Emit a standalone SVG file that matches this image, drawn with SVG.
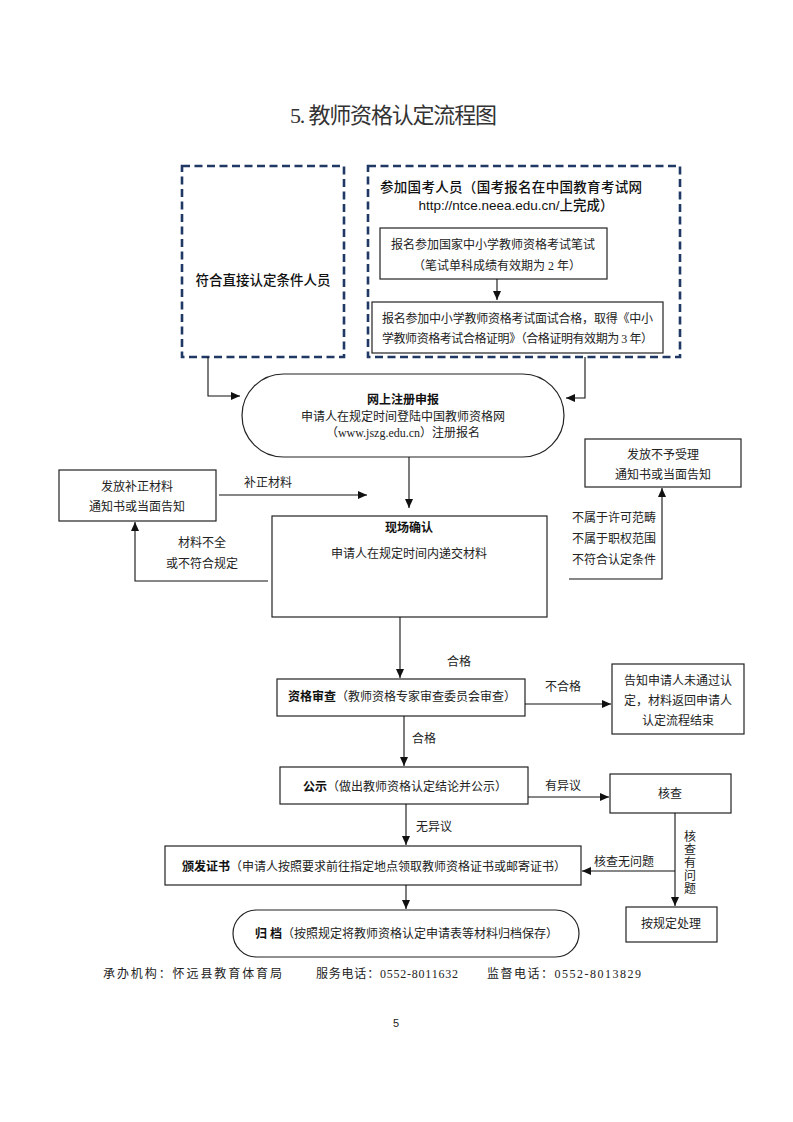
<svg xmlns="http://www.w3.org/2000/svg" width="793" height="1122" viewBox="0 0 793 1122">
<style>
.t{font-family:"Liberation Serif","Noto Sans CJK SC",serif;font-size:12px;fill:#222;}
.b{font-weight:bold;fill:#111;}
.h{font-family:"Liberation Sans","Noto Sans CJK SC",sans-serif;font-size:13.5px;fill:#111;font-weight:500;}
.box{fill:#fff;stroke:#222;stroke-width:1.2;}
.dash{fill:none;stroke:#1F3864;stroke-width:2.6;stroke-dasharray:8 4.5;}
.ln{fill:none;stroke:#111;stroke-width:1.1;}
</style>
<defs>
<marker id="ar" markerWidth="10" markerHeight="8" refX="9" refY="4" orient="auto" markerUnits="userSpaceOnUse">
<path d="M0,0 L9,4 L0,8 Z" fill="#111"/>
</marker>
</defs>
<rect width="793" height="1122" fill="#fff"/>
<text x="290" y="123" font-family="Liberation Serif,Noto Sans CJK SC,serif" font-size="22" fill="#333" textLength="207" lengthAdjust="spacing">5.&#160;教师资格认定流程图</text>

<g id="direct">
<rect class="dash" x="182" y="166" width="162" height="191"/>
<text class="h" x="263" y="285" text-anchor="middle">符合直接认定条件人员</text>
</g>
<g id="exam">
<rect class="dash" x="368" y="166" width="312" height="191"/>
<text class="h" x="380" y="192" textLength="262" lengthAdjust="spacing">参加国考人员（国考报名在中国教育考试网</text>
<text class="h" x="516" y="210" text-anchor="middle">http://ntce.neea.edu.cn/上完成）</text>
</g>
<g id="written">
<rect class="box" x="380" y="228" width="227" height="51"/>
<text class="t" x="493" y="249" text-anchor="middle">报名参加国家中小学教师资格考试笔试</text>
<text class="t" x="497" y="270" text-anchor="middle">（笔试单科成绩有效期为 2 年）</text>
</g>
<g id="interview">
<rect class="box" x="372" y="302" width="291" height="51"/>
<text class="t" x="382" y="323" textLength="271" lengthAdjust="spacing">报名参加中小学教师资格考试面试合格，取得《中小</text>
<text class="t" x="382" y="343" textLength="271" lengthAdjust="spacing">学教师资格考试合格证明》（合格证明有效期为 3 年）</text>
</g>
<g id="online">
<rect class="box" x="242" y="374" width="322" height="83" rx="41.5" ry="41.5"/>
<text class="t b" x="403" y="404" text-anchor="middle">网上注册申报</text>
<text class="t" x="403" y="421" text-anchor="middle">申请人在规定时间登陆中国教师资格网</text>
<text class="t" x="403" y="437" text-anchor="middle">（www.jszg.edu.cn）注册报名</text>
</g>
<g id="supplement">
<rect class="box" x="59" y="470" width="157" height="51"/>
<text class="t" x="137" y="491" text-anchor="middle">发放补正材料</text>
<text class="t" x="137" y="511" text-anchor="middle">通知书或当面告知</text>
</g>
<g id="reject">
<rect class="box" x="585" y="439" width="156" height="48"/>
<text class="t" x="663" y="459" text-anchor="middle">发放不予受理</text>
<text class="t" x="663" y="479" text-anchor="middle">通知书或当面告知</text>
</g>
<g id="confirm">
<rect class="box" x="272" y="516" width="275" height="101"/>
<text class="t b" x="409" y="532" text-anchor="middle">现场确认</text>
<text class="t" x="409" y="558" text-anchor="middle">申请人在规定时间内递交材料</text>
</g>
<g id="review">
<rect class="box" x="277" y="679" width="248" height="37"/>
<text class="t" x="288" y="701"><tspan class="b">资格审查</tspan>（教师资格专家审查委员会审查）</text>
</g>
<g id="fail">
<rect class="box" x="612" y="664" width="132" height="70"/>
<text class="t" x="678" y="685" text-anchor="middle">告知申请人未通过认</text>
<text class="t" x="678" y="705" text-anchor="middle">定，材料返回申请人</text>
<text class="t" x="678" y="725" text-anchor="middle">认定流程结束</text>
</g>
<g id="publicity">
<rect class="box" x="280" y="767" width="248" height="37"/>
<text class="t" x="303" y="791"><tspan class="b">公示</tspan>（做出教师资格认定结论并公示）</text>
</g>
<g id="verify">
<rect class="box" x="610" y="774" width="121" height="39"/>
<text class="t" x="670" y="798" text-anchor="middle">核查</text>
</g>
<g id="issue">
<rect class="box" x="165" y="846" width="416" height="39"/>
<text class="t" x="182" y="871"><tspan class="b">颁发证书</tspan>（申请人按照要求前往指定地点领取教师资格证书或邮寄证书）</text>
</g>
<g id="handle">
<rect class="box" x="626" y="907" width="91" height="35"/>
<text class="t" x="671" y="928" text-anchor="middle">按规定处理</text>
</g>
<g id="archive">
<rect class="box" x="233" y="910" width="346" height="47" rx="23.5" ry="23.5"/>
<text class="t" x="255" y="938"><tspan class="b">归&#160;档</tspan>（按照规定将教师资格认定申请表等材料归档保存）</text>
</g>

<g id="connectors">
<path class="ln" d="M208,357 V396 H240" marker-end="url(#ar)"/>
<path class="ln" d="M585,357 V398 H566" marker-end="url(#ar)"/>
<path class="ln" d="M497,279 V300" marker-end="url(#ar)"/>
<path class="ln" d="M409,457 V508" marker-end="url(#ar)"/>
<path class="ln" d="M219,495 H367" marker-end="url(#ar)"/>
<path class="ln" d="M268,581 H135 V522" marker-end="url(#ar)"/>
<path class="ln" d="M569,579 H662 V488" marker-end="url(#ar)"/>
<path class="ln" d="M400,617 V678" marker-end="url(#ar)"/>
<path class="ln" d="M525,704 H611" marker-end="url(#ar)"/>
<path class="ln" d="M404,716 V766" marker-end="url(#ar)"/>
<path class="ln" d="M528,797 H609" marker-end="url(#ar)"/>
<path class="ln" d="M406,804 V845" marker-end="url(#ar)"/>
<path class="ln" d="M675,813 V906" marker-end="url(#ar)"/>
<path class="ln" d="M675,871 H582" marker-end="url(#ar)"/>
<path class="ln" d="M406,885 V909" marker-end="url(#ar)"/>
<text class="t" x="268" y="487" text-anchor="middle">补正材料</text>
<text class="t" x="202" y="547" text-anchor="middle">材料不全</text>
<text class="t" x="202" y="568" text-anchor="middle">或不符合规定</text>
<text class="t" x="614" y="522" text-anchor="middle">不属于许可范畴</text>
<text class="t" x="614" y="543" text-anchor="middle">不属于职权范围</text>
<text class="t" x="614" y="564" text-anchor="middle">不符合认定条件</text>
<text class="t" x="459" y="666" text-anchor="middle">合格</text>
<text class="t" x="563" y="691" text-anchor="middle">不合格</text>
<text class="t" x="424" y="743" text-anchor="middle">合格</text>
<text class="t" x="563" y="790" text-anchor="middle">有异议</text>
<text class="t" x="434" y="831" text-anchor="middle">无异议</text>
<text class="t" x="624" y="866" text-anchor="middle">核查无问题</text>
<text class="t" x="690" y="841" text-anchor="middle">核</text>
<text class="t" x="690" y="854" text-anchor="middle">查</text>
<text class="t" x="690" y="867" text-anchor="middle">有</text>
<text class="t" x="690" y="880" text-anchor="middle">问</text>
<text class="t" x="690" y="893" text-anchor="middle">题</text>
</g>

<g id="footer">
<text class="t" x="103" y="978" font-size="13" textLength="179" lengthAdjust="spacing">承办机构：怀远县教育体育局</text>
<text class="t" x="316" y="978" font-size="13" textLength="142" lengthAdjust="spacing">服务电话：0552-8011632</text>
<text class="t" x="487" y="978" font-size="13" textLength="154" lengthAdjust="spacing">监督电话：0552-8013829</text>
<text x="396" y="1027" text-anchor="middle" font-family="Liberation Sans,sans-serif" font-size="11" fill="#222">5</text>
</g>
</svg>
